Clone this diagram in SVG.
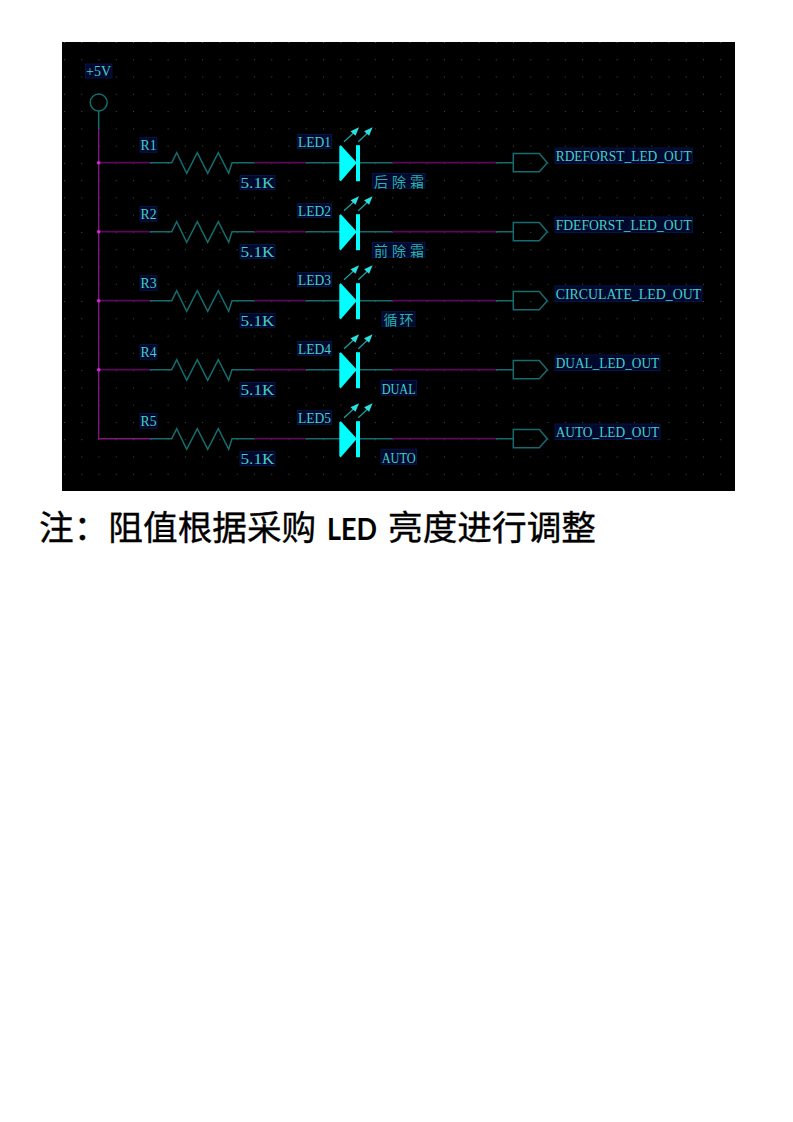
<svg xmlns="http://www.w3.org/2000/svg" xmlns:xlink="http://www.w3.org/1999/xlink" width="793" height="1122" viewBox="0 0 793 1122">
<style>
.t{stroke:#146c6e;stroke-width:1.5;fill:none}
.w{stroke:#560a58;stroke-width:1.7;fill:none}
.v{stroke:#7e1680;stroke-width:1.4;fill:none}
.lb{fill:#00082e;stroke:#0a1c5e;stroke-width:.7}
.tx{font-family:"Liberation Serif",serif;font-size:15.5px;fill:#45cfc8}
.cj{font-family:"Noto Sans CJK SC",sans-serif;font-size:14px;fill:#2ab0aa}
.rays{stroke:#17a0a0;stroke-width:1.2;fill:none}
.tip{fill:#2ce0e0}
.note{font-family:"Noto Sans CJK SC",sans-serif;font-size:34.67px;fill:#000;stroke:#000;stroke-width:.35}
</style>
<defs>
<pattern id="grid" x="64" y="42" width="17.27" height="17.27" patternUnits="userSpaceOnUse">
<rect x="0" y="0" width="1" height="1" fill="#4a4a4a"/>
</pattern>
<g id="res"><polyline class="t" points="150,0 171.7,0 176.7,-10 186.7,10.6 197.3,-10 207.7,10.6 218.3,-10 228.7,10.6 232,0 254,0"/></g>
<g id="led">
<polygon points="339.3,-16.5 340.8,-17.5 356,-1 356,1 340.8,18.5 339.3,17.5" fill="#00ffff"/>
<rect x="356" y="-17.5" width="4" height="36" fill="#00ffff"/>
<path class="rays" d="M344,-21 L356,-32 M358.3,-21 L370,-32"/>
<polygon class="tip" points="359,-35.5 355.5,-27 350.5,-31.5"/>
<polygon class="tip" points="372.6,-35.5 369.1,-27 364.1,-31.5"/>
</g>
<polygon id="port" class="t" points="513.3,-9.2 539.3,-9.2 547.3,0 539.3,9 513.3,9"/>
</defs>
<rect width="793" height="1122" fill="#fff"/>
<rect x="62" y="42" width="673" height="449" fill="#000"/>
<rect x="62" y="42" width="673" height="449" fill="url(#grid)"/>
<g id="connectors">
<path class="t" d="M98.7,111 V129"/>
<path class="v" d="M98.7,129 V438.7 H150"/>
<path class="w" d="M98.7,162.7 H150 M98.7,231.7 H150 M98.7,300.7 H150 M98.7,369.7 H150"/>
<path class="w" d="M254,162.7 H306 M254,231.7 H306 M254,300.7 H306 M254,369.7 H306 M254,438.7 H306"/>
<path class="t" d="M306,162.7 H340 M306,231.7 H340 M306,300.7 H340 M306,369.7 H340 M306,438.7 H340"/>
<path class="t" d="M360,162.7 H392 M360,231.7 H392 M360,300.7 H392 M360,369.7 H392 M360,438.7 H392"/>
<path class="w" d="M392,162.7 H496 M392,231.7 H496 M392,300.7 H496 M392,369.7 H496 M392,438.7 H496"/>
<path class="t" d="M496,162.7 H513 M496,231.7 H513 M496,300.7 H513 M496,369.7 H513 M496,438.7 H513"/>
<g fill="#e020e0"><circle cx="98.7" cy="162.7" r="1.8"/><circle cx="98.7" cy="231.7" r="1.8"/><circle cx="98.7" cy="300.7" r="1.8"/><circle cx="98.7" cy="369.7" r="1.8"/></g>
</g>
<g id="vcc">
<circle class="t" cx="98.7" cy="102.5" r="8.5"/>
<rect class="lb" x="85.3" y="64" width="26.7" height="14"/>
<text class="tx" x="86" y="76" textLength="25" lengthAdjust="spacingAndGlyphs">+5V</text>
</g>
<g id="R1" transform="translate(0,162.7)"><use xlink:href="#res" href="#res"/><rect class="lb" x="140" y="-25" width="17" height="14.5"/><text class="tx" x="140.5" y="-12.5" textLength="16" lengthAdjust="spacingAndGlyphs">R1</text><rect class="lb" x="240" y="12.6" width="35" height="14.5"/><text class="tx" x="240.5" y="25.5" textLength="34" lengthAdjust="spacingAndGlyphs">5.1K</text></g>
<g id="R2" transform="translate(0,231.7)"><use xlink:href="#res" href="#res"/><rect class="lb" x="140" y="-25" width="17" height="14.5"/><text class="tx" x="140.5" y="-12.5" textLength="16" lengthAdjust="spacingAndGlyphs">R2</text><rect class="lb" x="240" y="12.6" width="35" height="14.5"/><text class="tx" x="240.5" y="25.5" textLength="34" lengthAdjust="spacingAndGlyphs">5.1K</text></g>
<g id="R3" transform="translate(0,300.7)"><use xlink:href="#res" href="#res"/><rect class="lb" x="140" y="-25" width="17" height="14.5"/><text class="tx" x="140.5" y="-12.5" textLength="16" lengthAdjust="spacingAndGlyphs">R3</text><rect class="lb" x="240" y="12.6" width="35" height="14.5"/><text class="tx" x="240.5" y="25.5" textLength="34" lengthAdjust="spacingAndGlyphs">5.1K</text></g>
<g id="R4" transform="translate(0,369.7)"><use xlink:href="#res" href="#res"/><rect class="lb" x="140" y="-25" width="17" height="14.5"/><text class="tx" x="140.5" y="-12.5" textLength="16" lengthAdjust="spacingAndGlyphs">R4</text><rect class="lb" x="240" y="12.6" width="35" height="14.5"/><text class="tx" x="240.5" y="25.5" textLength="34" lengthAdjust="spacingAndGlyphs">5.1K</text></g>
<g id="R5" transform="translate(0,438.7)"><use xlink:href="#res" href="#res"/><rect class="lb" x="140" y="-25" width="17" height="14.5"/><text class="tx" x="140.5" y="-12.5" textLength="16" lengthAdjust="spacingAndGlyphs">R5</text><rect class="lb" x="240" y="12.6" width="35" height="14.5"/><text class="tx" x="240.5" y="25.5" textLength="34" lengthAdjust="spacingAndGlyphs">5.1K</text></g>
<g id="LED1" transform="translate(0,162.7)"><use xlink:href="#led" href="#led"/><rect class="lb" x="297.3" y="-28.4" width="34.4" height="14.4"/><text class="tx" x="298" y="-16" textLength="33" lengthAdjust="spacingAndGlyphs">LED1</text><rect class="lb" x="372.3" y="10.6" width="52.7" height="15"/><text class="cj" x="374" y="24" textLength="50" lengthAdjust="spacing">后除霜</text></g>
<g id="LED2" transform="translate(0,231.7)"><use xlink:href="#led" href="#led"/><rect class="lb" x="297.3" y="-28.4" width="34.4" height="14.4"/><text class="tx" x="298" y="-16" textLength="33" lengthAdjust="spacingAndGlyphs">LED2</text><rect class="lb" x="372.3" y="10.6" width="52.7" height="15"/><text class="cj" x="374" y="24" textLength="50" lengthAdjust="spacing">前除霜</text></g>
<g id="LED3" transform="translate(0,300.7)"><use xlink:href="#led" href="#led"/><rect class="lb" x="297.3" y="-28.4" width="34.4" height="14.4"/><text class="tx" x="298" y="-16" textLength="33" lengthAdjust="spacingAndGlyphs">LED3</text><rect class="lb" x="382" y="11" width="33" height="15"/><text class="cj" x="383.5" y="24.5" textLength="30" lengthAdjust="spacing">循环</text></g>
<g id="LED4" transform="translate(0,369.7)"><use xlink:href="#led" href="#led"/><rect class="lb" x="297.3" y="-28.4" width="34.4" height="14.4"/><text class="tx" x="298" y="-16" textLength="33" lengthAdjust="spacingAndGlyphs">LED4</text><rect class="lb" x="381" y="10.5" width="35.7" height="15"/><text class="tx" x="381.7" y="24" textLength="34" lengthAdjust="spacingAndGlyphs">DUAL</text></g>
<g id="LED5" transform="translate(0,438.7)"><use xlink:href="#led" href="#led"/><rect class="lb" x="297.3" y="-28.4" width="34.4" height="14.4"/><text class="tx" x="298" y="-16" textLength="33" lengthAdjust="spacingAndGlyphs">LED5</text><rect class="lb" x="381" y="10.5" width="35.7" height="15"/><text class="tx" x="381.7" y="24" textLength="34" lengthAdjust="spacingAndGlyphs">AUTO</text></g>
<g id="P1" transform="translate(0,162.7)"><use xlink:href="#port" href="#port"/><rect class="lb" x="555" y="-14.7" width="137.5" height="15.7"/><text class="tx" x="555.7" y="-1.5" textLength="136" lengthAdjust="spacingAndGlyphs">RDEFORST_LED_OUT</text></g>
<g id="P2" transform="translate(0,231.7)"><use xlink:href="#port" href="#port"/><rect class="lb" x="555" y="-14.7" width="137.5" height="15.7"/><text class="tx" x="555.7" y="-1.5" textLength="136" lengthAdjust="spacingAndGlyphs">FDEFORST_LED_OUT</text></g>
<g id="P3" transform="translate(0,300.7)"><use xlink:href="#port" href="#port"/><rect class="lb" x="555" y="-14.7" width="147" height="15.7"/><text class="tx" x="555.7" y="-1.5" textLength="145.5" lengthAdjust="spacingAndGlyphs">CIRCULATE_LED_OUT</text></g>
<g id="P4" transform="translate(0,369.7)"><use xlink:href="#port" href="#port"/><rect class="lb" x="555" y="-14.7" width="105" height="15.7"/><text class="tx" x="555.7" y="-1.5" textLength="103.5" lengthAdjust="spacingAndGlyphs">DUAL_LED_OUT</text></g>
<g id="P5" transform="translate(0,438.7)"><use xlink:href="#port" href="#port"/><rect class="lb" x="555" y="-14.7" width="105" height="15.7"/><text class="tx" x="555.7" y="-1.5" textLength="103.5" lengthAdjust="spacingAndGlyphs">AUTO_LED_OUT</text></g>
<text class="note" x="39" y="540">注：阻值根据采购</text>
<text x="327" y="540" font-family="Lato,sans-serif" font-weight="700" font-size="31" fill="#000" textLength="50" lengthAdjust="spacingAndGlyphs">LED</text>
<text class="note" x="388" y="540">亮度进行调整</text>
</svg>
